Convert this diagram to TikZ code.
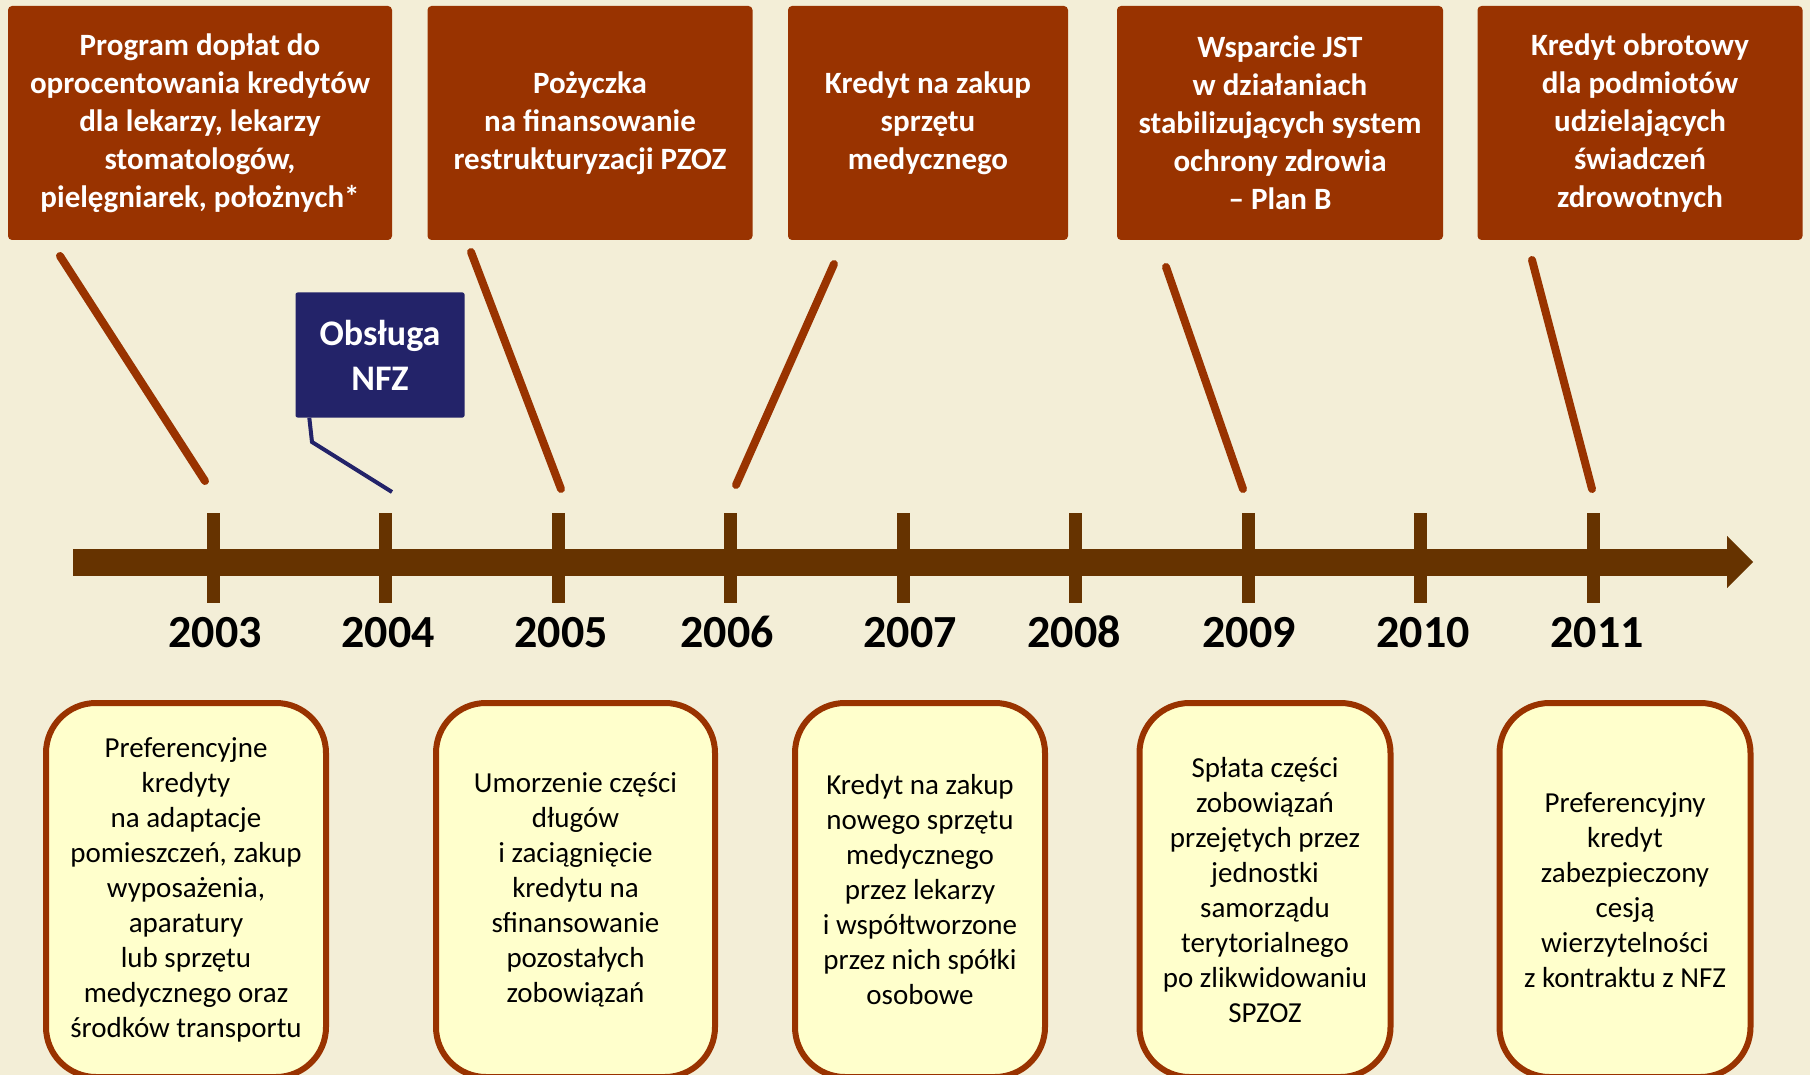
\documentclass[tikz,border=0pt]{standalone}
\usepackage{fontspec}
\setmainfont{Carlito}
\usepackage{tikz}
\usetikzlibrary{arrows.meta}

\definecolor{paper}{RGB}{243,238,215}
\definecolor{rust}{RGB}{153,51,0}
\definecolor{axisbrown}{RGB}{102,51,0}
\definecolor{navy}{RGB}{35,35,105}
\definecolor{pale}{RGB}{255,255,204}

\begin{document}
\begin{tikzpicture}[x=1pt,y=-1pt,
        topbox/.style={fill=rust,rounded corners=4pt,text=white,align=center,
            font=\fontsize{31}{38}\selectfont\bfseries,minimum height=234pt,inner sep=0pt},
        botbox/.style={draw=rust,line width=6pt,fill=pale,rounded corners=50pt,align=center,
            font=\fontsize{29}{35}\selectfont,minimum height=374pt,inner sep=0pt},
        pointer/.style={draw=rust,line width=8pt,line cap=round},
        tick/.style={fill=axisbrown,minimum width=13pt,minimum height=90pt,inner sep=0pt},
        year/.style={anchor=base,font=\fontsize{46}{50}\selectfont\bfseries}]
        \clip (0,0) rectangle (1810,1075);
        \fill[paper] (0,0) rectangle (1810,1075);

        \node[topbox,minimum width=384pt] (top1) at (200,123) {Program dopłat do\\oprocentowania kredytów\\dla lekarzy, lekarzy\\stomatologów,\\pielęgniarek, położnych*};
        \node[topbox,minimum width=325pt] (top2) at (590,123) {Pożyczka\\na finansowanie\\restrukturyzacji PZOZ};
        \node[topbox,minimum width=280pt] (top3) at (928,123) {Kredyt na zakup\\sprzętu\\medycznego};
        \node[topbox,minimum width=326pt] (top4) at (1280,123) {Wsparcie JST\\w działaniach\\stabilizujących system\\ochrony zdrowia\\– Plan B};
        \node[topbox,minimum width=325pt] (top5) at (1640,123) {Kredyt obrotowy\\dla podmiotów\\udzielających\\świadczeń\\zdrowotnych};

        \node[fill=navy,rounded corners=2pt,text=white,align=center,inner sep=0pt,
            minimum width=169pt,minimum height=125pt,
            font=\fontsize{36}{45}\selectfont\bfseries] (nfz) at (380,355) {Obsługa\\NFZ};

        \coordinate (axisstart) at (73,562);
        \coordinate (axisend) at (1753,562);
        \draw[axisbrown,line width=27pt,-{Triangle[length=26pt,width=52pt,line width=0.1pt]}] (axisstart) -- (axisend);

        \node[tick] (t2003) at (213,558) {};
        \node[tick] (t2004) at (385.5,558) {};
        \node[tick] (t2005) at (558,558) {};
        \node[tick] (t2006) at (730.5,558) {};
        \node[tick] (t2007) at (903,558) {};
        \node[tick] (t2008) at (1075.5,558) {};
        \node[tick] (t2009) at (1248,558) {};
        \node[tick] (t2010) at (1420.5,558) {};
        \node[tick] (t2011) at (1593,558) {};

        \node[year] (y2003) at (215,647) {2003};
        \node[year] (y2004) at (388,647) {2004};
        \node[year] (y2005) at (561,647) {2005};
        \node[year] (y2006) at (727,647) {2006};
        \node[year] (y2007) at (910,647) {2007};
        \node[year] (y2008) at (1074,647) {2008};
        \node[year] (y2009) at (1249,647) {2009};
        \node[year] (y2010) at (1423,647) {2010};
        \node[year] (y2011) at (1597,647) {2011};

        \coordinate (p1a) at (60,256);
        \coordinate (p1b) at (205,481);
        \coordinate (p2a) at (471,252);
        \coordinate (p2b) at (561,489);
        \coordinate (p3a) at (834,264);
        \coordinate (p3b) at (736,485);
        \coordinate (p4a) at (1166,267);
        \coordinate (p4b) at (1243,489);
        \coordinate (p5a) at (1532,260);
        \coordinate (p5b) at (1592,489);

        \draw[pointer] (p1a) -- (p1b);
        \draw[pointer] (p2a) -- (p2b);
        \draw[pointer] (p3a) -- (p3b);
        \draw[pointer] (p4a) -- (p4b);
        \draw[pointer] (p5a) -- (p5b);

        \coordinate (nfzbend) at (312,442);
        \coordinate (nfzend) at (392,492);
        \draw[navy,line width=4pt] ([xshift=14pt]nfz.south west) -- (nfzbend) -- (nfzend);

        \node[botbox,minimum width=280pt] (bot1) at (186,890) {Preferencyjne\\kredyty\\na adaptacje\\pomieszczeń, zakup\\wyposażenia,\\aparatury\\lub sprzętu\\medycznego oraz\\środków transportu};
        \node[botbox,minimum width=279pt] (bot2) at (575.5,890) {Umorzenie części\\długów\\i zaciągnięcie\\kredytu na\\sfinansowanie\\pozostałych\\zobowiązań};
        \node[botbox,minimum width=250pt] (bot3) at (920,890) {Kredyt na zakup\\nowego sprzętu\\medycznego\\przez lekarzy\\i współtworzone\\przez nich spółki\\osobowe};
        \node[botbox,minimum width=251pt] (bot4) at (1265,890) {Spłata części\\zobowiązań\\przejętych przez\\jednostki\\samorządu\\terytorialnego\\po zlikwidowaniu\\SPZOZ};
        \node[botbox,minimum width=251pt] (bot5) at (1625,890) {Preferencyjny\\kredyt\\zabezpieczony\\cesją\\wierzytelności\\z kontraktu z NFZ};
    \end{tikzpicture}
\end{document}
